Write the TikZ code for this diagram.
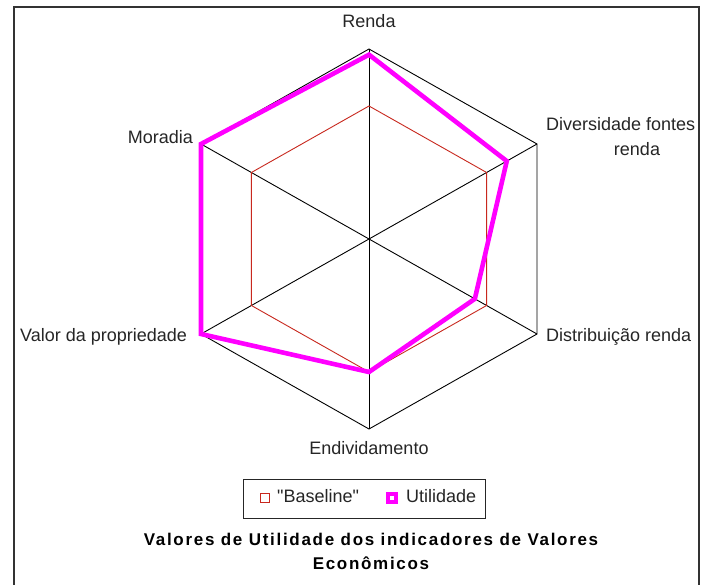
\documentclass[tikz,border=0pt]{standalone}
\usepackage{fontspec}
\setmainfont{Liberation Sans}
\newfontfamily\titlefont[LetterSpace=10]{Liberation Sans}
\newcommand\strq{\XeTeXglyph\XeTeXcharglyph"22\relax}
\usetikzlibrary{calc}
\definecolor{mag}{RGB}{255,0,255}
\definecolor{basecol}{RGB}{200,40,30}
\begin{document}
\begin{tikzpicture}[x=1pt,y=-1pt,
  lbl/.style={font=\fontsize{18}{20}\selectfont, inner sep=0pt, text=black!85},
  spoke/.style={black, line width=0.9pt},
  baseline/.style={basecol, line width=0.9pt, line join=miter},
  util/.style={mag, line width=4.6pt, line join=miter},
  ttl/.style={font=\titlefont\bfseries\fontsize{17}{20}\selectfont, inner sep=0pt}]
\useasboundingbox (0,0) rectangle (705,585);
\clip (0,0) rectangle (705,585);
\fill[white] (0,0) rectangle (705,585);
\draw[black!80, line width=1.8pt] (14,7) rectangle (699,600);
% axes
\coordinate (C) at (369,239);
\coordinate (v1) at (369,49);
\coordinate (v2) at (537,144);
\coordinate (v3) at (537,334);
\coordinate (v4) at (369,429);
\coordinate (v5) at (201,334);
\coordinate (v6) at (201,144);
\foreach \i in {1,...,6} \draw[spoke] (C) -- (v\i);
\draw[spoke] (v1) -- (v2) -- (v3) -- (v4) -- (v5) -- (v6) -- cycle;
% baseline series
\foreach \i in {1,...,6} \coordinate (b\i) at ($(C)!0.7!(v\i)$);
\draw[baseline] (b1) -- (b2) -- (b3) -- (b4) -- (b5) -- (b6) -- cycle;
% utilidade series
\coordinate (u1) at ($(C)!0.97!(v1)$);
\coordinate (u2) at ($(C)!0.82!(v2)$);
\coordinate (u3) at ($(C)!0.63!(v3)$);
\coordinate (u4) at ($(C)!0.70!(v4)$);
\coordinate (u5) at ($(C)!1.0!(v5)$);
\coordinate (u6) at ($(C)!1.0!(v6)$);
\draw[util] (u1) -- (u2) -- (u3) -- (u4) -- (u5) -- (u6) -- cycle;
% labels
\node[lbl, anchor=base] (lRenda) at (369,28) {Renda};
\node[lbl, anchor=base west] (lDiv1) at (546,131) {Diversidade fontes};
\node[lbl, anchor=base] (lDiv2) at (637,156) {renda};
\node[lbl, anchor=base west] (lDist) at (546,342) {Distribuição renda};
\node[lbl, anchor=base] (lEnd) at (369,455) {Endividamento};
\node[lbl, anchor=base west] (lVal) at (20,342) {Valor da propriedade};
\node[lbl, anchor=base east] (lMor) at (193,144) {Moradia};
% legend
\draw[black!85, line width=0.9pt] (243,479) rectangle (485,518);
\node[draw=basecol, line width=0.9pt, minimum size=8.5pt, inner sep=0pt] (mBase) at (265,498) {};
\node[lbl, anchor=base west] (tBase) at (277,503) {\strq Baseline\strq};
\node[draw=mag, fill=white, line width=4pt, minimum size=8pt, inner sep=0pt] (mUtil) at (392,498) {};
\node[lbl, anchor=base west] (tUtil) at (406,503) {Utilidade};
% title
\node[ttl, anchor=base] (title1) at (371,545) {Valores de Utilidade dos indicadores de Valores};
\node[ttl, anchor=base] (title2) at (371,569) {Econômicos};
\end{tikzpicture}
\end{document}
